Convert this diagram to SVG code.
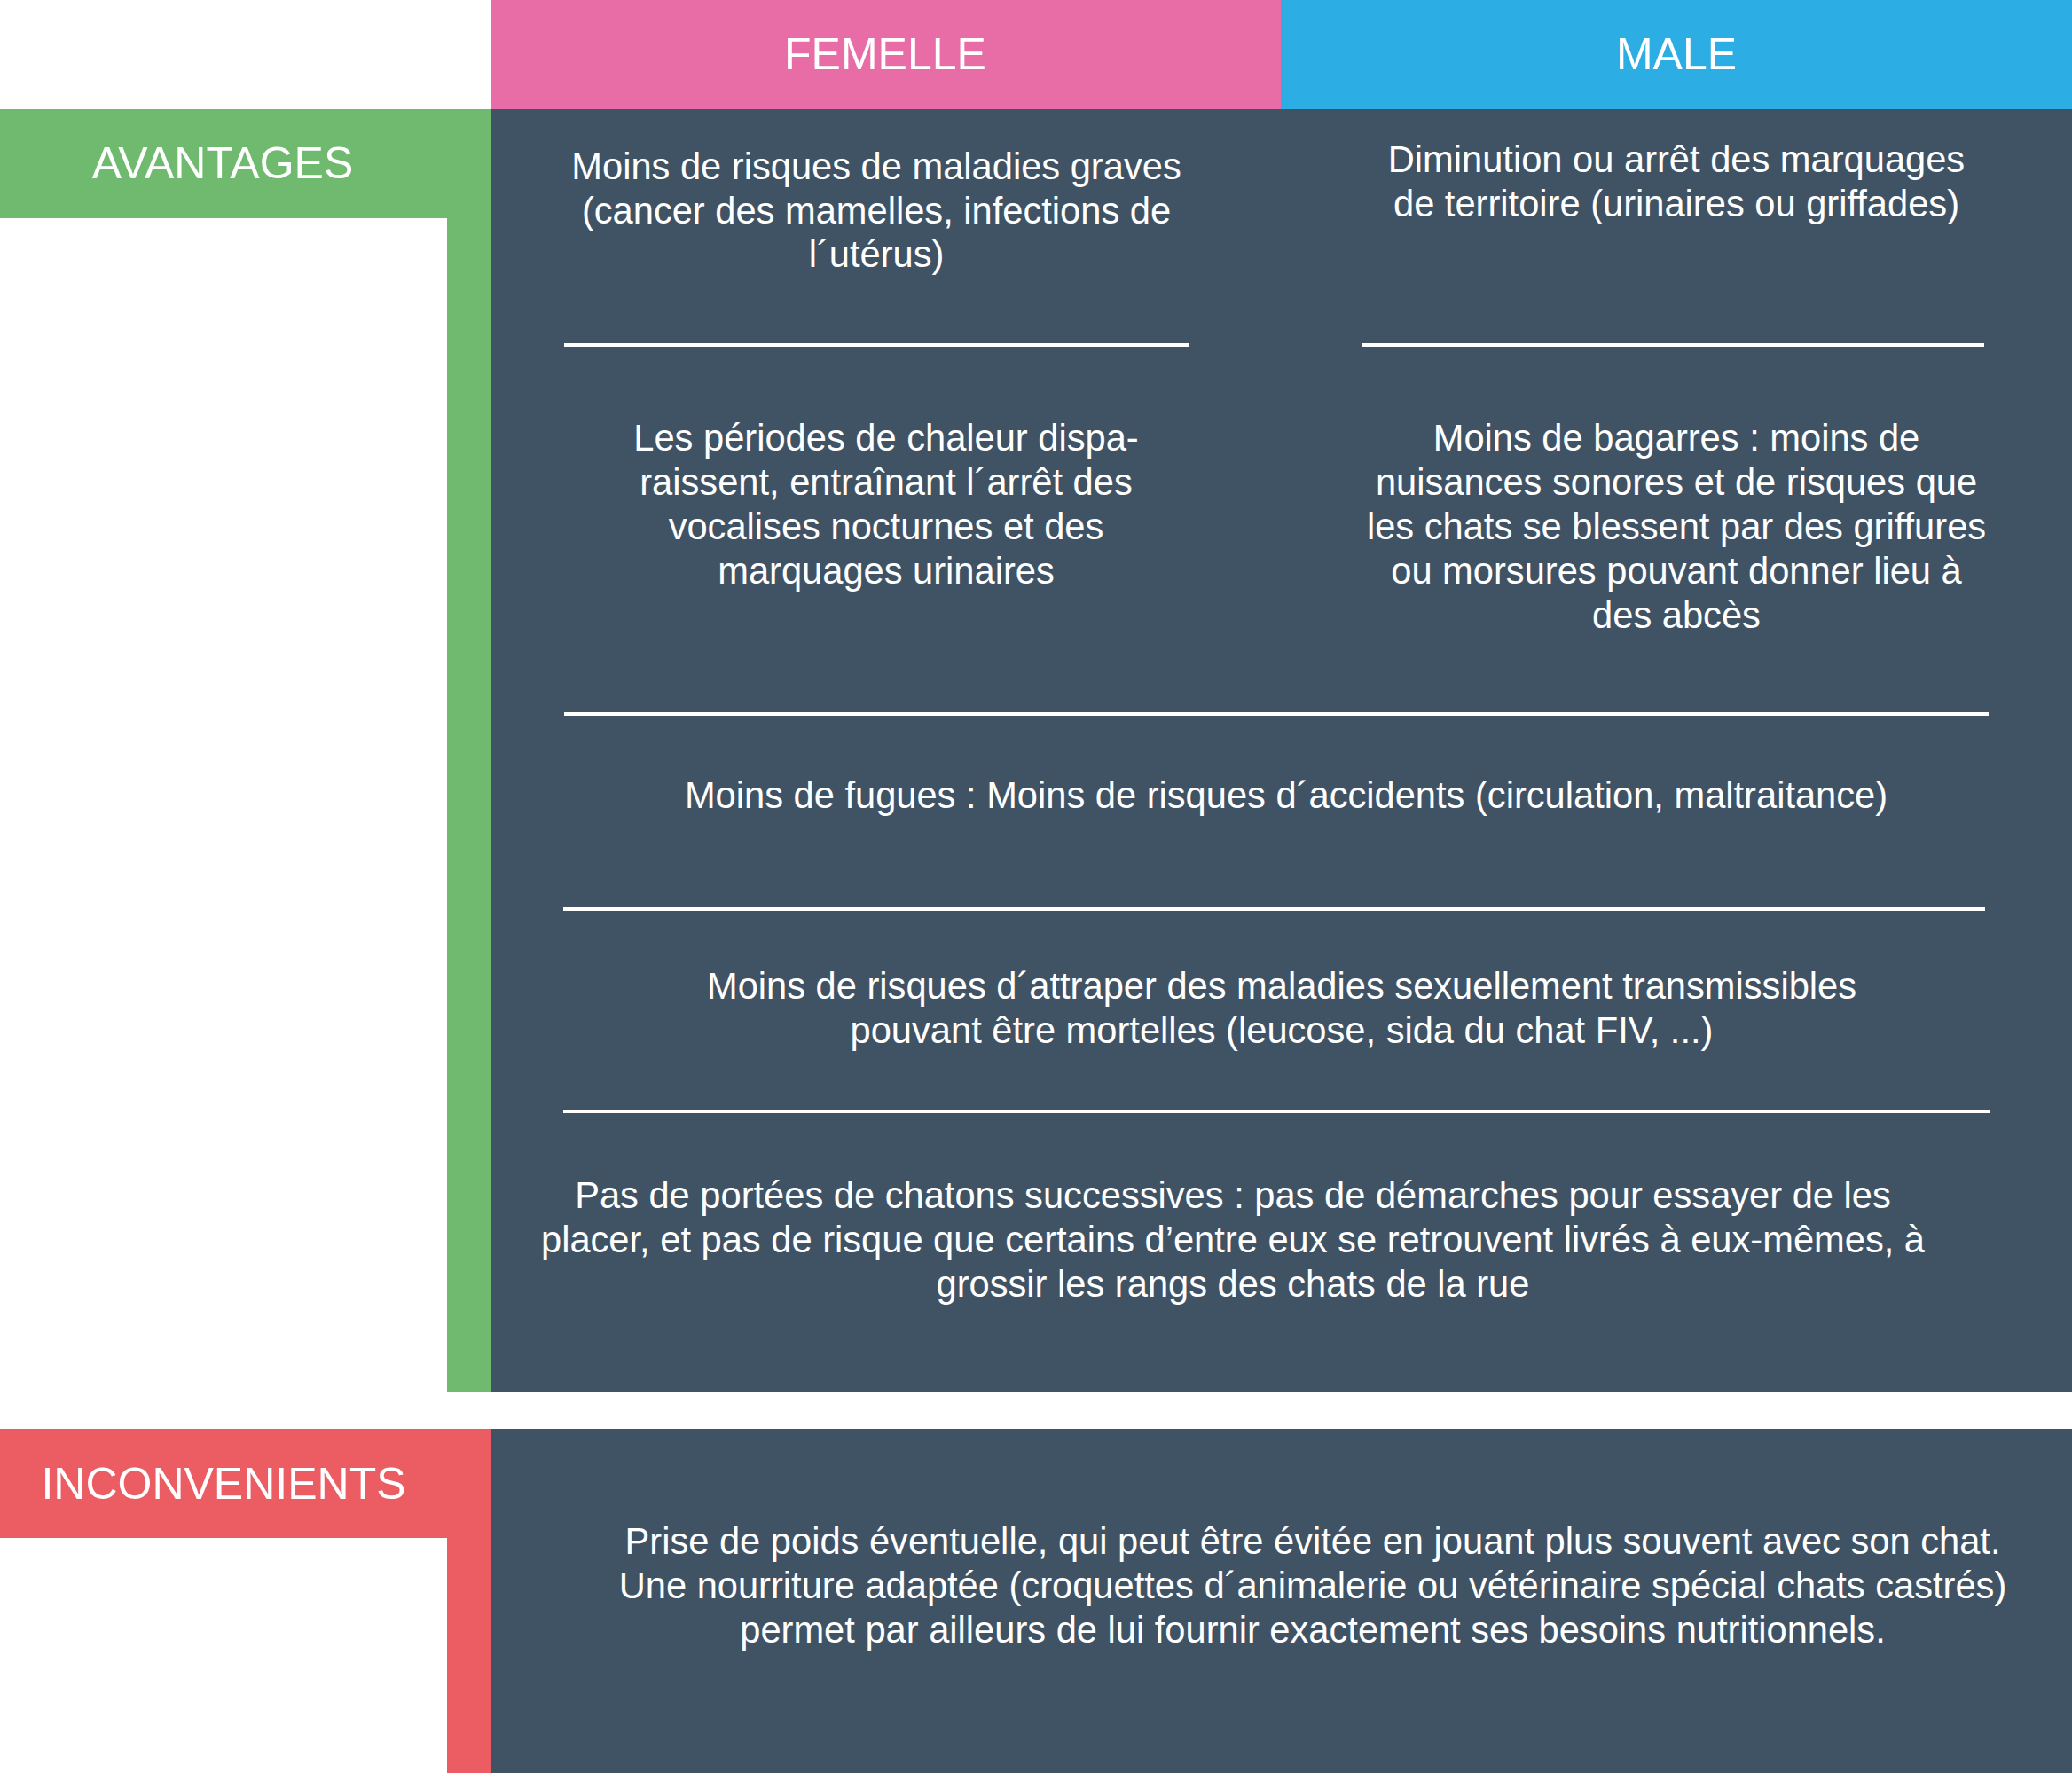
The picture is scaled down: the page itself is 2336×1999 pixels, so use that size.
<svg xmlns="http://www.w3.org/2000/svg" width="2336" height="1999" viewBox="0 0 2336 1999">
<style>
.t{font-family:"Liberation Sans",Arial,sans-serif;fill:#ffffff;text-anchor:middle}
.h{font-size:50px}
.b{font-size:41.65px}
.sep{stroke:#ffffff;stroke-width:4}
</style>
<rect x="0" y="0" width="2336" height="1999" fill="#ffffff"/>
<g id="header-femelle">
<rect x="553" y="0" width="891" height="123" fill="#E86CA5"/>
<text class="t h" x="998" y="78">FEMELLE</text>
</g>
<g id="header-male">
<rect x="1444" y="0" width="892" height="123" fill="#2CAEE4"/>
<text class="t h" x="1890" y="78">MALE</text>
</g>
<g id="avantages">
<rect x="0" y="123" width="553" height="123" fill="#6FBA6F"/>
<rect x="504" y="123" width="49" height="1446" fill="#6FBA6F"/>
<text class="t h" x="251" y="201">AVANTAGES</text>
</g>
<g id="panel-avantages">
<rect x="553" y="123" width="1783" height="1446" fill="#405365"/>
</g>
<g id="inconvenients">
<rect x="0" y="1611" width="553" height="123" fill="#EB5C63"/>
<rect x="504" y="1611" width="49" height="388" fill="#EB5C63"/>
<text class="t h" x="252" y="1690">INCONVENIENTS</text>
</g>
<g id="panel-inconvenients">
<rect x="553" y="1611" width="1783" height="388" fill="#405365"/>
</g>
<g id="separators">
<line class="sep" x1="636" y1="389" x2="1341" y2="389"/>
<line class="sep" x1="1536" y1="389" x2="2237" y2="389"/>
<line class="sep" x1="636" y1="805" x2="2242" y2="805"/>
<line class="sep" x1="635" y1="1025" x2="2238" y2="1025"/>
<line class="sep" x1="635" y1="1253" x2="2244" y2="1253"/>
</g>
<g id="f1">
<text class="t b" x="988" y="202">Moins de risques de maladies graves</text>
<text class="t b" x="988" y="252">(cancer des mamelles, infections de</text>
<text class="t b" x="988" y="301">l´utérus)</text>
</g>
<g id="m1">
<text class="t b" x="1890" y="194">Diminution ou arrêt des marquages</text>
<text class="t b" x="1890" y="244">de territoire (urinaires ou griffades)</text>
</g>
<g id="f2">
<text class="t b" x="999" y="508">Les périodes de chaleur dispa-</text>
<text class="t b" x="999" y="558">raissent, entraînant l´arrêt des</text>
<text class="t b" x="999" y="608">vocalises nocturnes et des</text>
<text class="t b" x="999" y="658">marquages urinaires</text>
</g>
<g id="m2">
<text class="t b" x="1890" y="508">Moins de bagarres : moins de</text>
<text class="t b" x="1890" y="558">nuisances sonores et de risques que</text>
<text class="t b" x="1890" y="608">les chats se blessent par des griffures</text>
<text class="t b" x="1890" y="658">ou morsures pouvant donner lieu à</text>
<text class="t b" x="1890" y="708">des abcès</text>
</g>
<g id="both1">
<text class="t b" x="1450" y="911">Moins de fugues : Moins de risques d´accidents (circulation, maltraitance)</text>
</g>
<g id="both2">
<text class="t b" x="1445" y="1126">Moins de risques d´attraper des maladies sexuellement transmissibles</text>
<text class="t b" x="1445" y="1176">pouvant être mortelles (leucose, sida du chat FIV, ...)</text>
</g>
<g id="both3">
<text class="t b" x="1390" y="1362">Pas de portées de chatons successives : pas de démarches pour essayer de les</text>
<text class="t b" x="1390" y="1412">placer, et pas de risque que certains d’entre eux se retrouvent livrés à eux-mêmes, à</text>
<text class="t b" x="1390" y="1462">grossir les rangs des chats de la rue</text>
</g>
<g id="inc1">
<text class="t b" x="1480" y="1752">Prise de poids éventuelle, qui peut être évitée en jouant plus souvent avec son chat.</text>
<text class="t b" x="1480" y="1802">Une nourriture adaptée (croquettes d´animalerie ou vétérinaire spécial chats castrés)</text>
<text class="t b" x="1480" y="1852">permet par ailleurs de lui fournir exactement ses besoins nutritionnels.</text>
</g>
</svg>
